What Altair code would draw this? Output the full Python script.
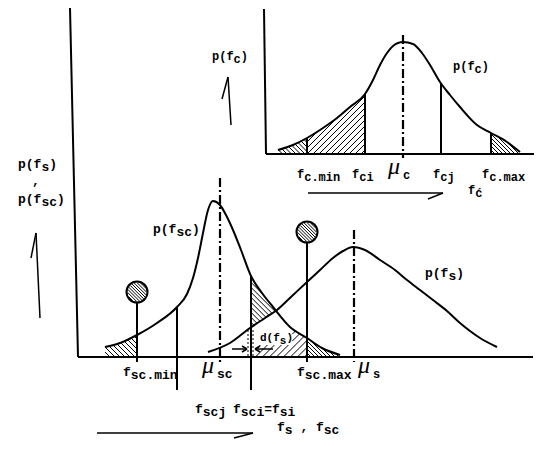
import altair as alt
import numpy as np
import pandas as pd

# ---------------- data (page pixel coordinates) -------------
# inset curve p(fc)
fc_x = [278, 293, 307, 323, 337, 350, 365, 373, 380, 387, 393, 403, 413, 422, 430, 440, 450, 460, 477, 491, 507, 520]
fc_y = [150, 145, 138, 128, 118, 107, 94, 80, 65, 53, 46, 42, 44, 53, 65, 82, 95, 107, 125, 133, 142, 152]
# lower curve p(fsc)
fsc_x = [105, 120, 137, 157, 177, 187, 193, 198, 203, 208, 213, 220, 226, 233, 241, 251, 262, 273, 290, 307, 322, 340]
fsc_y = [347, 343, 335, 323, 307, 294, 278, 258, 233, 210, 201, 205, 215, 230, 250, 276, 293, 307, 327, 338, 348, 355]
# lower curve p(fs)
fs_x = [208, 230, 250, 265, 277, 292, 307, 320, 333, 343, 353, 365, 380, 395, 407, 420, 433, 447, 460, 470, 480, 497]
fs_y = [352, 343, 328, 318, 310, 296, 282, 270, 258, 251, 247, 250, 260, 270, 280, 290, 300, 311, 323, 331, 338, 347]

base_low = 357
base_top = 154

# axis frame lines
axes_x = [70, 78, 264, 266]
axes_y = [8, 357, 9, 154]
axes_x2 = [78, 533, 266, 538]
axes_y2 = [357, 357, 154, 154]

# marker positions
inset_marks = [307, 365, 441, 491]           # fc.min, fci, fcj, fc.max
mu_c = 403
mu_sc = 220
mu_s = 354
ball_x = [137, 307]                         # fsc.min, fsc.max
ball_y = [292, 232]
ball_r = 10.5
fscj_x = 177
fsci_x = 251

# labels: (x, baseline, size, pieces[(text, is_sub)])
labels = [
    (212, 60, 12, [("p(f", 0), ("c", 1), (")", 0)]),
    (453, 70, 12, [("p(f", 0), ("c", 1), (")", 0)]),
    (297, 178, 12, [("f", 0), ("c.min", 1)]),
    (352, 178, 12, [("f", 0), ("ci", 1)]),
    (433, 178, 12, [("f", 0), ("cj", 1)]),
    (482, 178, 12, [("f", 0), ("c.max", 1)]),
    (468, 194, 12, [("f", 0), ("ć", 1)]),
    (18, 168, 13, [("p(f", 0), ("s", 1), (")", 0)]),
    (32, 185, 13, [(",", 0)]),
    (18, 203, 13, [("p(f", 0), ("sc", 1), (")", 0)]),
    (153, 233, 13, [("p(f", 0), ("sc", 1), (")", 0)]),
    (425, 277, 13, [("p(f", 0), ("s", 1), (")", 0)]),
    (260, 341, 11, [("d(f", 0), ("s", 1), (")", 0)]),
    (123, 376, 13, [("f", 0), ("sc.min", 1)]),
    (297, 376, 13, [("f", 0), ("sc.max", 1)]),
    (195, 413, 13, [("f", 0), ("scj", 1)]),
    (233, 413, 13, [("f", 0), ("sci", 1), ("=f", 0), ("si", 1)]),
    (277, 431, 13, [("f", 0), ("s", 1), (" , f", 0), ("sc", 1)]),
]
mu_labels = [  # (x of mu, baseline, subscript text)
    (388, 174, "c"),
    (202, 373, "sc"),
    (358, 373, "s"),
]

# arrows (shaft + half head)
arrow_x = [40, 36, 231, 228, 308, 443, 97, 253]
arrow_y = [318, 233, 125, 77, 193, 193, 433, 433]
head_x = [31, 222, 428, 234]
head_y = [258, 99, 199, 438]

# ---------------- helpers ----------------
fc = lambda x: np.interp(x, fc_x, fc_y)
fsc = lambda x: np.interp(x, fsc_x, fsc_y)
fs = lambda x: np.interp(x, fs_x, fs_y)


def hatch(xa, xb, top, bot, direction, sp):
    xs = np.arange(xa, xb + 0.001, 0.2)
    t = top(xs)
    b = bot(xs)
    segs = []
    if direction == "/":
        cs = np.arange(xa + t.min(), xb + b.max(), sp)
    else:
        cs = np.arange(xa - b.max(), xb - t.min(), sp)
    for c in cs:
        ys = c - xs if direction == "/" else xs - c
        inside = (ys >= t) & (ys <= b)
        if not inside.any():
            continue
        idx = np.where(inside)[0]
        runs = np.split(idx, np.where(np.diff(idx) > 1)[0] + 1)
        for r in runs:
            if len(r) < 2:
                continue
            segs.append(dict(x=xs[r[0]], y=ys[r[0]], x2=xs[r[-1]], y2=ys[r[-1]]))
    return segs


flat = lambda v: (lambda x: np.full_like(np.asarray(x, dtype=float), v))

hatches = []
hatches += hatch(105, 137, fsc, flat(base_low), "\\", 5)
hatches += hatch(251, 277, fsc, fs, "\\", 5)
hatches += hatch(256, 307, lambda x: np.maximum(np.maximum(fs(x), fsc(x)), np.where(x < 292, 345, 0)),
                 flat(base_low), "/", 7)
hatches += hatch(307, 340, fsc, flat(base_low), "\\", 4)
hatches += hatch(278, 307, fc, flat(base_top), "\\", 4.5)
hatches += hatch(307, 365, fc, flat(base_top), "/", 6)
hatches += hatch(491, 520, fc, flat(base_top), "\\", 4)
for bx, by in zip(ball_x, ball_y):
    rr = ball_r - 0.8
    hatches += hatch(bx - rr, bx + rr,
                     lambda x, bx=bx, by=by: by - np.sqrt(np.clip(rr**2 - (x - bx) ** 2, 0, None)),
                     lambda x, bx=bx, by=by: by + np.sqrt(np.clip(rr**2 - (x - bx) ** 2, 0, None)),
                     "\\", 3.2)
hatch_df = pd.DataFrame(hatches)

curves = pd.concat([
    pd.DataFrame(dict(x=fc_x, y=fc_y, c="fc")),
    pd.DataFrame(dict(x=fsc_x, y=fsc_y, c="fsc")),
    pd.DataFrame(dict(x=fs_x, y=fs_y, c="fs")),
])

solid = [dict(x=a, y=b, x2=c, y2=d) for a, b, c, d in zip(axes_x, axes_y, axes_x2, axes_y2)]
for m in inset_marks:
    solid.append(dict(x=m, y=float(fc(m)), x2=m, y2=base_top))
for bx, by in zip(ball_x, ball_y):
    solid.append(dict(x=bx, y=by + ball_r, x2=bx, y2=362))
solid.append(dict(x=fscj_x, y=float(fsc(fscj_x)), x2=fscj_x, y2=390))
solid.append(dict(x=fsci_x, y=float(fsc(fsci_x)), x2=fsci_x, y2=390))
solid_df = pd.DataFrame(solid)

thin = []
for i in range(0, len(arrow_x), 2):
    thin.append(dict(x=arrow_x[i], y=arrow_y[i], x2=arrow_x[i + 1], y2=arrow_y[i + 1]))
    thin.append(dict(x=arrow_x[i + 1], y=arrow_y[i + 1], x2=head_x[i // 2], y2=head_y[i // 2]))
# d(fs) arrows
thin += [dict(x=232, y=349, x2=247, y2=349), dict(x=247, y=349, x2=242, y2=346), dict(x=247, y=349, x2=242, y2=352),
         dict(x=273, y=349, x2=255, y2=349), dict(x=255, y=349, x2=260, y2=346), dict(x=255, y=349, x2=260, y2=352)]
thin_df = pd.DataFrame(thin)

dotted_df = pd.DataFrame([dict(x=248, y=330, x2=248, y2=357), dict(x=253, y=330, x2=253, y2=357)])

dashdot_df = pd.DataFrame([
    dict(x=mu_c, y=35, x2=mu_c, y2=158),
    dict(x=mu_sc, y=178, x2=mu_sc, y2=362),
    dict(x=mu_s, y=230, x2=mu_s, y2=362),
])

txt = []
for x0, y0, size, pieces in labels:
    cw = 0.6 * size
    pos = x0
    for t, sub in pieces:
        lead = len(t) - len(t.lstrip(" "))
        txt.append(dict(t=t.strip(" "), x=pos + lead * cw, y=y0 + (3 if sub else 0), s=size))
        pos += len(t) * cw
for mx, my, sub in mu_labels:
    txt.append(dict(t=sub, x=mx + 15, y=my + 5, s=13 if len(sub) > 1 else 12))
txt_df = pd.DataFrame(txt)
mu_df = pd.DataFrame([dict(t="μ", x=m[0], y=m[1]) for m in mu_labels])
ball_df = pd.DataFrame(dict(x=ball_x, y=ball_y))

# ---------------- chart ----------------
XS = alt.Scale(domain=[8, 534])
YS = alt.Scale(domain=[8, 443], reverse=True)
X = lambda f="x": alt.X(f"{f}:Q", scale=XS, axis=None)
Y = lambda f="y": alt.Y(f"{f}:Q", scale=YS, axis=None)


def rules(df, **kw):
    return alt.Chart(df).mark_rule(color="black", **kw).encode(
        x=X(), y=Y(), x2="x2:Q", y2="y2:Q")


hatch_layer = rules(hatch_df, strokeWidth=1)
curve_layer = alt.Chart(curves).mark_line(color="black", strokeWidth=2, interpolate="monotone").encode(
    x=X(), y=Y(), detail="c:N", order="x:Q")
solid_layer = rules(solid_df, strokeWidth=2)
thin_layer = rules(thin_df, strokeWidth=1.5)
dotted_layer = rules(dotted_df, strokeWidth=1, strokeDash=[2, 2])
dashdot_layer = rules(dashdot_df, strokeWidth=2.2, strokeDash=[9, 3, 2, 3])
ball_layer = alt.Chart(ball_df).mark_point(shape="circle", size=(2 * ball_r) ** 2, color="black",
                                           strokeWidth=2, filled=False, opacity=1).encode(x=X(), y=Y())
text_layer = alt.Chart(txt_df).mark_text(font="Liberation Mono", fontWeight="bold", align="left",
                                         baseline="alphabetic", color="black").encode(
    x=X(), y=Y(), text="t:N", size=alt.Size("s:Q", scale=None, legend=None))
mu_layer = alt.Chart(mu_df).mark_text(font="Liberation Serif", fontStyle="italic", fontSize=24, align="left",
                                      baseline="alphabetic", color="black").encode(x=X(), y=Y(), text="t:N")

chart = alt.layer(hatch_layer, curve_layer, solid_layer, thin_layer, dotted_layer, dashdot_layer,
                  ball_layer, text_layer, mu_layer).properties(
    width=526, height=435, autosize=alt.AutoSizeParams(type="none"), padding=0,
    background="white").configure_view(strokeWidth=0)

chart.save("out.html", embed_options={"renderer": "svg", "actions": False})
